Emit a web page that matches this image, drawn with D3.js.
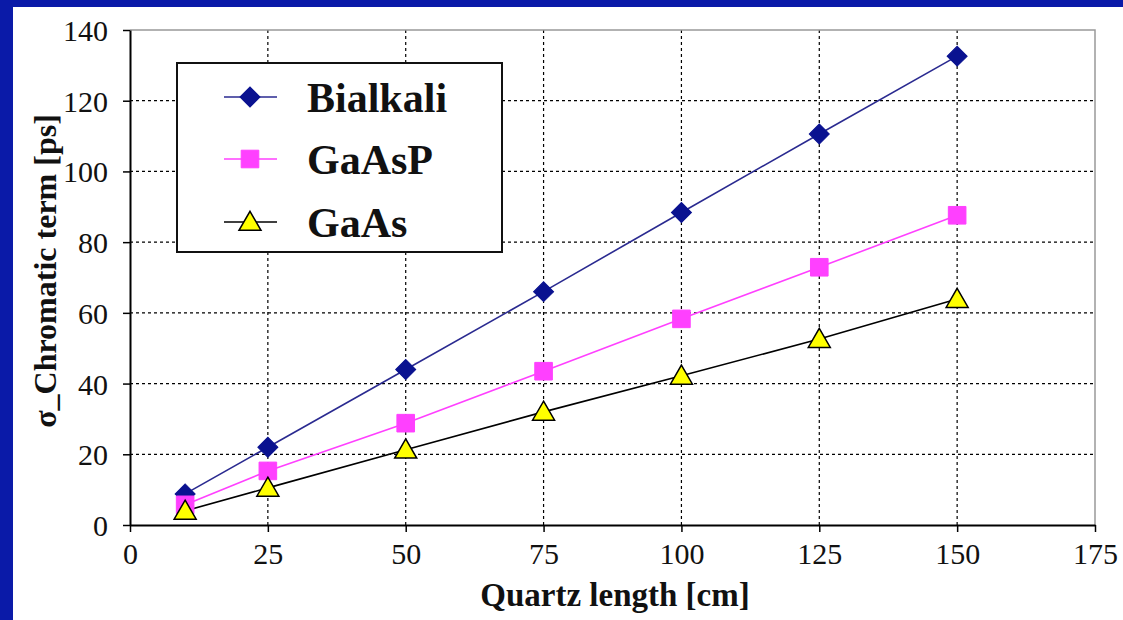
<!DOCTYPE html>
<html><head><meta charset="utf-8">
<script src="https://cdn.jsdelivr.net/npm/d3@7"></script>
<style>body{margin:0;background:#0a1aa8;}svg{display:block;}
text{font-family:'Liberation Serif','Times New Roman',serif;}</style>
</head><body>
<svg id="c" width="1123" height="620"></svg>
<script>
const xValues = [10, 25, 50, 75, 100, 125, 150];
const bialkali = [8.8, 22, 44, 66, 88.4, 110.6, 132.6];
const gaasp = [5.7, 15.3, 28.8, 43.5, 58.3, 72.9, 87.6];
const gaas = [4.0, 10.5, 21.3, 32.0, 42.2, 52.6, 63.9];
const xTicks = [0, 25, 50, 75, 100, 125, 150, 175];
const yTicks = [0, 20, 40, 60, 80, 100, 120, 140];
const seriesNames = ["Bialkali", "GaAsP", "GaAs"];

const svg = d3.select("#c");
svg.append("rect").attr("x", 13).attr("y", 7).attr("width", 1110).attr("height", 613).attr("fill", "#fff");

const x = d3.scaleLinear().domain([0, 175]).range([130, 1095]);
const y = d3.scaleLinear().domain([0, 140]).range([525, 30]);
const font = "'Liberation Serif','Times New Roman',serif";

// grid
const g = svg.append("g");
g.selectAll(".vg").data(xTicks.filter(t => t > 0 && t < 175)).join("line")
  .attr("x1", d => x(d)).attr("x2", d => x(d)).attr("y1", y(0)).attr("y2", y(140))
  .attr("stroke", "#000").attr("stroke-width", 1.2).attr("stroke-dasharray", "3,3");
g.selectAll(".hg").data(yTicks.filter(t => t > 0 && t < 140)).join("line")
  .attr("y1", d => y(d)).attr("y2", d => y(d)).attr("x1", x(0)).attr("x2", x(175))
  .attr("stroke", "#000").attr("stroke-width", 1.2).attr("stroke-dasharray", "3,3");

// top & right border
svg.append("path").attr("d", `M${x(0)},${y(140)}H${x(175)}V${y(0)}`)
  .attr("fill", "none").attr("stroke", "#999").attr("stroke-width", 1.5);

// axes
const xAxis = svg.append("g").attr("transform", `translate(0,${y(0)})`)
  .call(d3.axisBottom(x).tickValues(xTicks).tickSize(7).tickSizeOuter(0).tickPadding(10));
const yAxis = svg.append("g").attr("transform", `translate(${x(0)},0)`)
  .call(d3.axisLeft(y).tickValues(yTicks).tickSize(7).tickSizeOuter(0).tickPadding(15));
[xAxis, yAxis].forEach(a => {
  a.attr("font-family", font).attr("font-size", 30);
  a.select(".domain").attr("stroke", "#000").attr("stroke-width", 2);
  a.selectAll(".tick line").attr("stroke", "#000").attr("stroke-width", 1.5);
  a.selectAll(".tick text").style("font-family", font).style("font-size", "30px").attr("fill", "#111");
});
xAxis.selectAll(".tick text").attr("dy", "0.72em");
yAxis.selectAll(".tick text").attr("dy", "0.35em");

// titles
svg.append("text").attr("x", 615).attr("y", 606).attr("text-anchor", "middle")
  .style("font-family", font).attr("font-weight", "bold").attr("font-size", 33).attr("fill", "#111")
  .text("Quartz length [cm]");
svg.append("text").attr("transform", "translate(56,271) rotate(-90)").attr("text-anchor", "middle")
  .style("font-family", font).attr("font-weight", "bold").attr("font-size", 32).attr("fill", "#111")
  .text("σ_Chromatic term [ps]");

const styles = [
  {line: "#2a2a90", sym: d3.symbolSquare, size: 200, rot: 45, fill: "#0a1290", stroke: "#0a1290", sw: 1},
  {line: "#ff40ff", sym: d3.symbolSquare, size: 310, rot: 0, fill: "#ff40ff", stroke: "#ff40ff", sw: 1},
  {line: "#000", sym: d3.symbolTriangle, size: 210, rot: 0, fill: "#ffff00", stroke: "#000", sw: 1.5}
];
const data = [bialkali, gaasp, gaas];
const line = d3.line().x((d, i) => x(xValues[i])).y(d => y(d));

data.forEach((vals, k) => {
  const s = styles[k];
  svg.append("path").datum(vals).attr("d", line).attr("fill", "none")
    .attr("stroke", s.line).attr("stroke-width", 1.6);
});
data.forEach((vals, k) => {
  const s = styles[k];
  svg.append("g").selectAll("path").data(vals).join("path")
    .attr("transform", (d, i) => `translate(${x(xValues[i])},${y(d) + (k === 2 ? 2 : 0)}) rotate(${s.rot})`)
    .attr("d", d3.symbol().type(s.sym).size(s.size))
    .attr("fill", s.fill).attr("stroke", s.stroke).attr("stroke-width", s.sw);
});

// legend
const lg = svg.append("g");
lg.append("rect").attr("x", 177).attr("y", 63).attr("width", 325).attr("height", 189)
  .attr("fill", "#fff").attr("stroke", "#111").attr("stroke-width", 2);
const rows = [97, 159, 222];
seriesNames.forEach((name, k) => {
  const s = styles[k];
  lg.append("line").attr("x1", 224).attr("x2", 277).attr("y1", rows[k]).attr("y2", rows[k])
    .attr("stroke", s.line).attr("stroke-width", 1.6);
  lg.append("path").attr("transform", `translate(250,${rows[k] + (k === 2 ? 2 : 0)}) rotate(${s.rot})`)
    .attr("d", d3.symbol().type(s.sym).size(s.size))
    .attr("fill", s.fill).attr("stroke", s.stroke).attr("stroke-width", s.sw);
  lg.append("text").attr("x", 307).attr("y", rows[k]).attr("dy", "0.35em")
    .style("font-family", font).attr("font-weight", "bold").attr("font-size", 42).attr("fill", "#111")
    .text(name);
});
</script>
</body></html>
